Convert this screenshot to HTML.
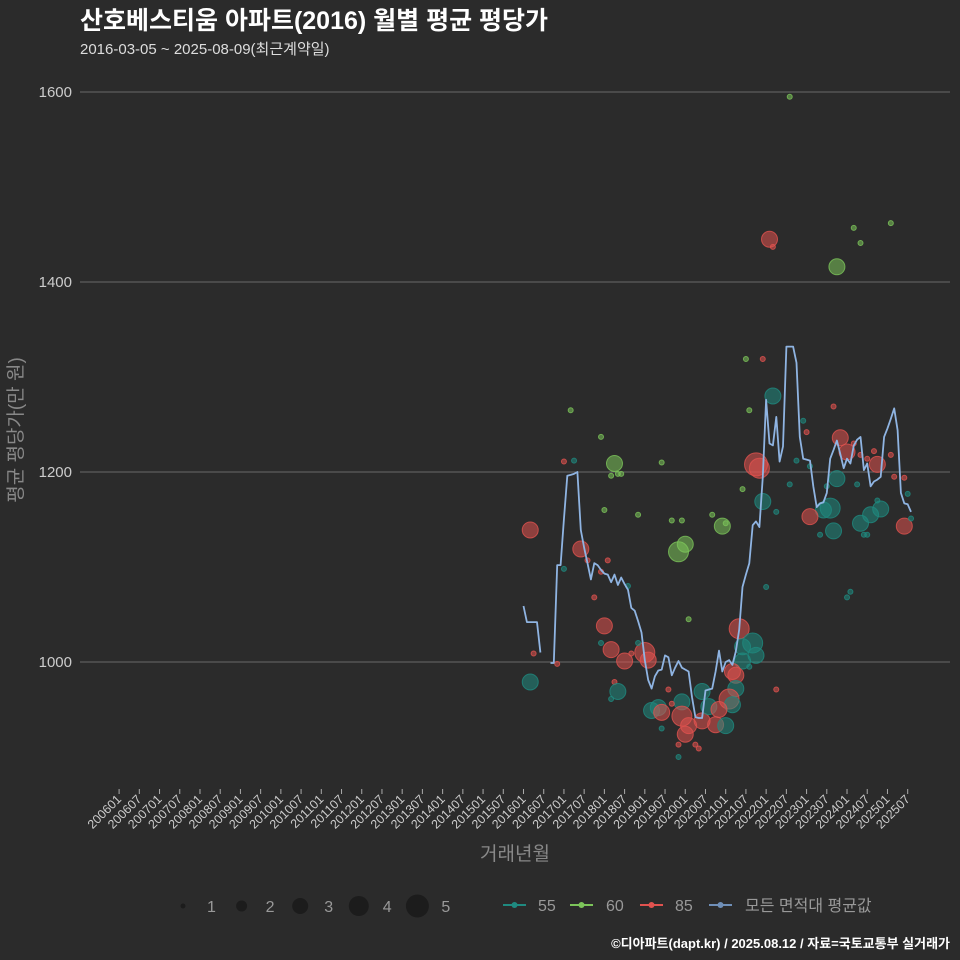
<!DOCTYPE html>
<html><head><meta charset="utf-8">
<style>
html,body{margin:0;padding:0;background:#2b2b2b;}
svg{display:block;font-family:"Liberation Sans","Noto Sans CJK KR",sans-serif;}
</style></head>
<body>
<svg id="chart" width="960" height="960" viewBox="0 0 960 960">
<rect width="960" height="960" fill="#2b2b2b"/>
<text x="80" y="29" fill="#ffffff" font-size="25" font-weight="bold">산호베스티움 아파트(2016) 월별 평균 평당가</text>
<text x="80" y="54" fill="#dddddd" font-size="15">2016-03-05 ~ 2025-08-09(최근계약일)</text>
<g id="grid"></g>
<g id="yticks"></g>
<g id="xticks"></g>
<g id="points"></g>
<g id="line"></g>
<text transform="translate(22,430) rotate(-90)" text-anchor="middle" fill="#888" font-size="19">평균 평당가(만 원)</text>
<text x="515" y="860" text-anchor="middle" fill="#888" font-size="19">거래년월</text>
<g id="legend"></g>
<text x="950" y="948" text-anchor="end" fill="#ffffff" font-size="13" font-weight="bold">©디아파트(dapt.kr) / 2025.08.12 / 자료=국토교통부 실거래가</text>
</svg>
<script>
// months are counted from 2016-01 (0)
const yTicks = [1000, 1200, 1400, 1600];
const avgMonths = [0,1,2,3,4,5,8,9,10,11,12,13,14,15,16,17,18,19,20,21,22,23,24,25,26,27,28,29,30,31,32,33,34,35,36,37,38,39,40,41,42,43,44,45,46,47,48,49,50,51,52,53,54,55,56,57,58,59,60,61,62,63,64,65,66,67,68,69,70,71,72,73,74,75,76,77,78,79,80,81,82,83,84,85,86,87,88,89,90,91,92,93,94,95,96,97,98,99,100,101,102,103,104,105,106,107,108,109,110,111,112,113,114,115];
const avgValues = [1059,1042,1042,1042,1042,1010,999,999,1102,1102,1150,1196,1197,1198,1200,1139,1120,1104,1087,1104,1102,1097,1093,1092,1084,1092,1081,1089,1082,1076,1057,1054,1043,1031,1002,981,972,985,991,992,1007,1005,986,994,1001,994,992,990,963,942,941,941,970,971,972,990,1012,990,1000,1002,997,1011,1034,1079,1092,1104,1144,1148,1142,1195,1276,1230,1228,1258,1211,1227,1332,1332,1332,1315,1237,1214,1213,1212,1185,1163,1167,1168,1178,1214,1223,1233,1219,1204,1214,1209,1228,1234,1237,1202,1209,1185,1190,1192,1195,1237,1246,1256,1267,1244,1178,1167,1166,1158];
const ptMonths = [2,2,3,10,12,12,15,14,17,19,25,23,23,27,26,28,29,24,21,24,23,26,31,30,32,36,37,34,27,28,26,34,41,44,47,46,48,49,56,59,60,65,67,66,71,74,69,70,71,75,72,75,64,68,65,69,65,67,62,63,63,61,62,53,47,38,40,41,43,44,47,49,48,53,57,60,55,58,46,51,52,46,41,83,84,92,94,96,98,100,102,104,109,105,110,113,81,79,85,90,99,93,89,91,85,88,92,100,103,106,101,102,105,97,96,113,115,114,79,73,74,93,98,100,109];
const ptValues = [1139,979,1009,998,1098,1211,1212,1265,1119,1107,1107,1095,1237,1209,1196,1198,1198,1160,1068,1038,1020,1013,1080,1001,1009,1010,1002,1020,979,969,961,1155,1210,1149,1149,1116,1124,1045,1155,1143,1146,1182,1265,1319,1319,1280,1208,1204,1169,1158,1079,971,1035,1020,1016,1007,1001,995,990,986,972,961,955,969,958,949,952,947,971,956,943,933,924,938,934,933,953,950,913,913,909,900,930,1254,1242,1269,1236,1221,1230,1218,1214,1222,1218,1208,1195,1194,1212,1187,1206,1185,1187,1193,1160,1162,1153,1134,1138,1146,1155,1161,1134,1134,1170,1074,1068,1143,1151,1177,1595,1445,1437,1416,1457,1441,1462];
const ptTypes = ["85","55","85","85","55","85","55","60","85","85","85","85","60","60","60","60","60","60","85","85","55","85","55","85","85","85","85","55","85","55","55","60","60","60","60","60","60","60","60","60","60","60","60","60","85","55","85","85","55","55","55","85","85","55","55","55","55","55","85","85","55","85","55","55","55","55","55","85","85","85","85","85","85","85","85","55","55","85","85","85","85","55","55","55","85","85","85","85","85","85","85","85","85","85","85","85","55","55","55","55","55","55","55","55","85","55","55","55","55","55","55","55","55","55","55","85","55","55","60","85","85","60","60","60","60"];
const ptCounts = [3,3,1,1,1,1,1,1,3,1,1,1,1,3,1,1,1,1,1,3,1,3,1,3,1,4,3,1,1,3,1,1,1,1,1,4,3,1,1,3,1,1,1,1,1,3,5,4,3,1,1,1,4,4,3,3,3,1,3,3,3,4,3,3,3,3,3,3,1,1,4,3,3,3,3,3,3,3,1,1,1,1,1,1,1,1,3,3,1,1,1,1,1,3,1,1,1,1,1,1,1,3,3,4,3,1,3,3,3,3,1,1,1,1,1,3,1,1,1,3,1,3,1,1,1];
const xTickLabels = ["200601","200607","200701","200707","200801","200807","200901","200907","201001","201007","201101","201107","201201","201207","201301","201307","201401","201407","201501","201507","201601","201607","201701","201707","201801","201807","201901","201907","202001","202007","202101","202107","202201","202207","202301","202307","202401","202407","202501","202507"];
const sizeLevels = [1,2,3,4,5];

const colors = {"55":"#1f8a80","60":"#7cc45a","85":"#e0524f"};
const radius = [0,2.5,5.5,8,10,11.5];
const X = m => 523.5 + 3.37*m;
const Y = v => 662 - (v-1000)*0.95;
const NS = "http://www.w3.org/2000/svg";
function mk(tag, attrs, parent){const e=document.createElementNS(NS,tag);for(const k in attrs)e.setAttribute(k,attrs[k]);parent.appendChild(e);return e;}

const grid=document.getElementById('grid'), yt=document.getElementById('yticks');
yTicks.forEach(v=>{
  const l=mk('line',{x1:80,x2:950,y1:Y(v),y2:Y(v),stroke:'#6a6a6a','stroke-width':1},grid);
  
  
  const t=mk('text',{x:72,y:Y(v)+5,'text-anchor':'end',fill:'#cccccc','font-size':15},yt);
  t.textContent=v;
  
  
});
const xt=document.getElementById('xticks');
xTickLabels.forEach((lab,i)=>{
  const yr=+lab.slice(0,4), mo=+lab.slice(4);
  const m=(yr-2016)*12+(mo-1);
  const x=X(m);
  const tk=mk('line',{x1:x,x2:x,y1:789,y2:794,stroke:'#aaa','stroke-width':1},xt);
  
  
  const t=mk('text',{x:x+3,y:800,'text-anchor':'end',fill:'#cccccc','font-size':12.5,transform:`rotate(-45 ${x+3} 800)`},xt);
  t.textContent=lab;
  
  
});
const pg=document.getElementById('points');
ptMonths.forEach((m,i)=>{
  const c=colors[ptTypes[i]];
  const r=radius[ptCounts[i]];
  const p=mk('circle',{cx:X(m),cy:Y(ptValues[i]),r:r,fill:c,'fill-opacity':0.55,stroke:c,'stroke-opacity':0.8,'stroke-width':1},pg);
  
  
});
const lg=document.getElementById('line');
let seg=[];const segs=[];
avgMonths.forEach((m,i)=>{
  if(i>0 && m-avgMonths[i-1]>1){segs.push(seg);seg=[];}
  seg.push(X(m).toFixed(1)+','+Y(avgValues[i]).toFixed(1));
});
segs.push(seg);
segs.forEach(s=>{
  const pl=mk('polyline',{points:s.join(' '),fill:'none',stroke:'#8fb4e2','stroke-width':1.8,'stroke-linejoin':'round'},lg);
  
  
});
const leg=document.getElementById('legend');
sizeLevels.forEach((s,i)=>{
  const cx=183+i*58.6;
  const c=mk('circle',{cx:cx,cy:906,r:radius[s],fill:'#1c1c1c'},leg);
  
  
  const t=mk('text',{x:cx+24,y:912,fill:'#999','font-size':16},leg);
  t.textContent=s;
  
  
});
const series=[["55",colors["55"],503,538],["60",colors["60"],570,606],["85",colors["85"],640,675],["모든 면적대 평균값","#6f8fb8",709,745]];
series.forEach(s=>{
  const g=mk('g',{},leg);
  
  
  mk('line',{x1:s[2],x2:s[2]+23,y1:905,y2:905,stroke:s[1],'stroke-width':2},g);
  mk('circle',{cx:s[2]+11.5,cy:905,r:3,fill:s[1]},g);
  const t=mk('text',{x:s[3],y:911,fill:'#999','font-size':16},g);
  t.textContent=s[0];
});
</script>
</body></html>
